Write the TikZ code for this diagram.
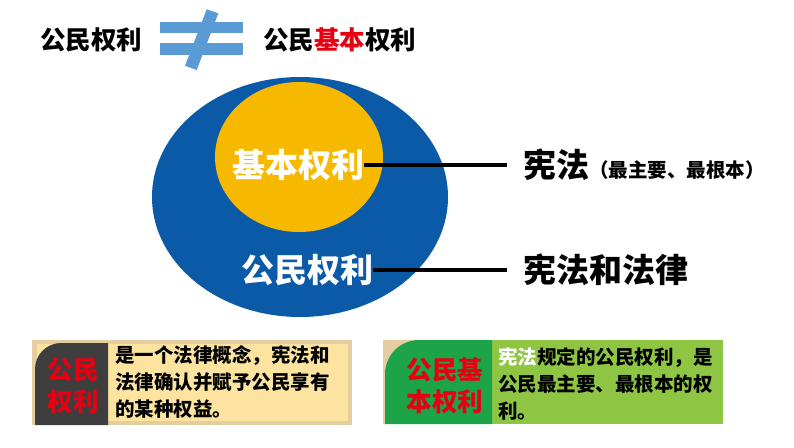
\documentclass[tikz,border=0pt]{standalone}
\usepackage{fontspec}
\newfontfamily\cjk{Noto Sans CJK SC}
\newcommand{\fsz}[1]{\fontsize{#1}{#1}\selectfont}
\definecolor{ovalblue}{RGB}{11,90,168}
\definecolor{ovalyellow}{RGB}{247,185,0}
\definecolor{signblue}{RGB}{91,155,213}
\definecolor{hired}{RGB}{230,0,18}
\definecolor{paper}{RGB}{228,205,160}
\definecolor{cream}{RGB}{252,228,160}
\definecolor{darkgray}{RGB}{62,62,62}
\definecolor{darkgreen}{RGB}{30,164,72}
\definecolor{lightgreen}{RGB}{142,198,68}
\begin{document}
\begin{tikzpicture}[x=1pt,y=-1pt,
	title/.style={font=\cjk\bfseries\fsz{25.5},anchor=west,inner sep=0pt},
	inlabel/.style={font=\cjk\bfseries\fsz{33},text=white,inner sep=0pt},
	outlabel/.style={font=\cjk\bfseries\fsz{33},anchor=west,inner sep=0pt},
	tag/.style={font=\cjk\bfseries\fsz{25.5},text=hired,align=center,inner sep=0pt},
	note/.style={font=\cjk\bfseries\fontsize{19.5}{27}\selectfont,align=left,anchor=north west,inner sep=0pt}]
\useasboundingbox (0,0) rectangle (794,447);
% heading with the not-equal sign
\node[title] (pr) at (40,40) {公民权利};
\node[title] (fr) at (263,40) {公民\textcolor{hired}{基本}权利};
\fill[signblue] (160,21.7) rectangle (243,32.7);
\fill[signblue] (160,43.3) rectangle (243,55);
\fill[signblue] (206.7,9.3) -- (218.3,13.3) -- (196.7,70) -- (185,65.7) -- cycle;
% the two ovals
\fill[ovalblue] (300,197) ellipse [x radius=148, y radius=120];
\fill[ovalyellow] (299,157) ellipse [x radius=84, y radius=75];
\node[inlabel] (jb) at (298,165) {基本权利};
\node[inlabel] (gm) at (307,270) {公民权利};
\node[outlabel] (xf) at (523,165) {宪法{\fsz{19.5}（最主要、最根本）}};
\node[outlabel] (hf) at (523,270) {宪法和法律};
\draw[line width=3.5pt,shorten >=16pt] (jb.east) -- (jb.east -| xf.west);
\draw[line width=3.5pt,shorten >=16pt] (gm.east) -- (hf.west);
% left box
\fill[paper] (32,340) rectangle (352,425);
\fill[cream] (37,344) rectangle (348,421);
\fill[darkgray] (108,425) -- (35,425) [rounded corners=26pt] -- (35,343) [sharp corners] -- (108,343) -- cycle;
\node[tag] (t1) at (73,386) {公民\\[6pt]权利};
\node[note] (n1) at (115,345) {是一个法律概念，宪法和\\法律确认并赋予公民享有\\的某种权益。};
% right box
\fill[paper] (383,340) rectangle (492,424);
\fill[lightgreen] (492,340) rectangle (723,424);
\fill[darkgreen] (492,424) -- (385,424) [rounded corners=34pt] -- (385,340) [sharp corners] -- (492,340) -- cycle;
\node[tag] (t2) at (445,386) {公民基\\[6pt]本权利};
\node[note] (n2) at (498,347) {\textcolor{white}{宪法}规定的公民权利，是\\公民最主要、最根本的权\\利。};
\end{tikzpicture}
\end{document}
